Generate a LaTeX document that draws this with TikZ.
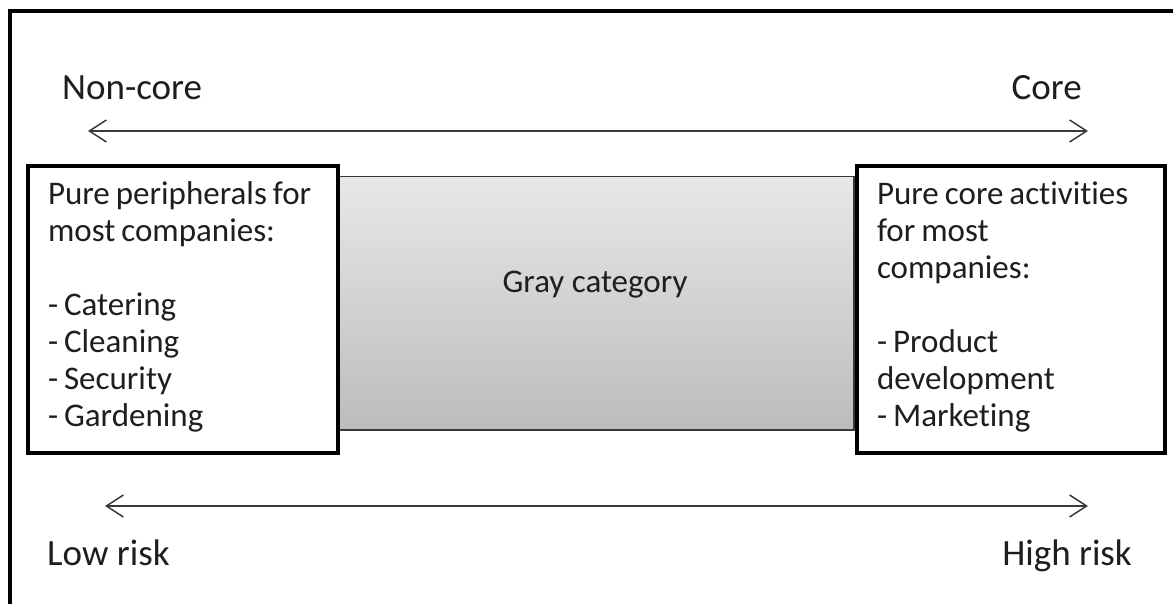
\documentclass[tikz,border=0pt]{standalone}
\usepackage{fontspec}
\setmainfont{Carlito}[Ligatures=NoCommon]
\usetikzlibrary{arrows.meta}
\definecolor{inkc}{HTML}{1E1E1E}
\definecolor{arrowc}{HTML}{3A3A3A}
\definecolor{graytop}{HTML}{E8E8E8}
\definecolor{graybot}{HTML}{BCBCBC}
\newcommand{\tightspaces}{\spaceskip=6pt plus 1pt\relax\xspaceskip=6pt plus 1pt\relax}
\tikzset{
  labeltxt/.style={font=\fontsize{37}{40}\selectfont, text=inkc, inner sep=0pt},
  boxtxt/.style={font=\fontsize{33}{37}\selectfont, text=inkc},
  sidebox/.style={boxtxt, draw=black, line width=4pt, fill=white,
    align=left, inner ysep=0pt, text height=30pt, text depth=239pt,
    minimum height=287pt, anchor=north west,
    execute at begin node=\tightspaces},
  graybox/.style={draw=black!78, line width=1.5pt, top color=graytop,
    bottom color=graybot, anchor=north west, inner sep=0pt},
  axis/.style={draw=arrowc, line width=1.5pt,
    {Straight Barb[length=17pt,width=22pt,line width=1.5pt]}-{Straight Barb[length=17pt,width=22pt,line width=1.5pt]}}
}
\begin{document}
\begin{tikzpicture}[x=1pt,y=-1pt]
\useasboundingbox (0,0) rectangle (1173,604);
\clip (0,0) rectangle (1173,604);
\fill[white] (0,0) rectangle (1173,604);
% outer frame, running past the right and bottom edges
\draw[line width=4pt] (10,11) rectangle (1300,700);

% shaded middle band
\node[graybox, minimum width=516pt, minimum height=253pt] (gray) at (337,176) {};
\node[boxtxt, anchor=base, inner sep=0pt] (graylbl) at (595,292) {Gray category};

% side boxes
\node[sidebox, inner xsep=20pt, text width=270pt] (left) at (26,164)
  {Pure peripherals for\\most companies:\\[37pt]- Catering\\- Cleaning\\- Security\\- Gardening};
\node[sidebox, inner xsep=20pt, text width=268pt] (right) at (855,164)
  {Pure core activities\\for most\\companies:\\[37pt]- Product\\development\\- Marketing};

% axis labels
\node[labeltxt, anchor=base west] (noncore) at (62,100) {Non-core};
\node[labeltxt, anchor=base east] (core) at (1082,100) {Core};
\node[labeltxt, anchor=base west] (lowrisk) at (47,565) {Low risk};
\node[labeltxt, anchor=base east] (highrisk) at (1132,565) {High risk};

% double-headed axes
\coordinate (ctl) at (88,131);
\coordinate (ctr) at (1088,131);
\coordinate (rbl) at (105,506);
\coordinate (rbr) at (1088,506);
\draw[axis] (ctl) -- (ctr);
\draw[axis] (rbl) -- (rbr);
\end{tikzpicture}
\end{document}
